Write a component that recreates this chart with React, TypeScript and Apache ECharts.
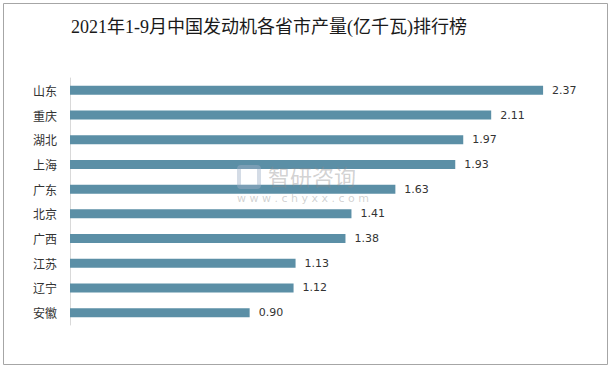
import React, { useEffect, useRef } from "react";
import * as echarts from "echarts";

const titleText = "2021年1-9月中国发动机各省市产量(亿千瓦)排行榜";
const provinces = ["山东", "重庆", "湖北", "上海", "广东", "北京", "广西", "江苏", "辽宁", "安徽"];
const output = [2.37, 2.11, 1.97, 1.93, 1.63, 1.41, 1.38, 1.13, 1.12, 0.9];

export default function App() {
  const ref = useRef<HTMLDivElement>(null);
  useEffect(() => {
    if (!ref.current) return;
    const chart = echarts.init(ref.current, undefined, { renderer: "svg" });
    chart.setOption({
      animation: false,
      backgroundColor: "#ffffff",
      title: {
        text: titleText,
        left: 66,
        top: 13,
        textStyle: {
          fontFamily: "'Liberation Serif', 'Noto Sans CJK SC', serif",
          fontSize: 18,
          fontWeight: "normal",
          color: "#1a1a1a",
        },
      },
      graphic: [
        {
          type: "rect",
          shape: { x: 3.5, y: 3.5, width: 604, height: 361 },
          style: { fill: "none", stroke: "#a6a6a6", lineWidth: 1 },
          silent: true,
          z: -1,
        },
        {
          type: "rect",
          shape: { x: 239, y: 167, width: 20, height: 20, r: 2 },
          style: { fill: "none", stroke: "rgba(160,178,200,0.45)", lineWidth: 4 },
          silent: true,
          z: 10,
        },
        {
          type: "text",
          x: 268,
          y: 164,
          style: {
            text: "智研咨询",
            fontSize: 22,
            fontFamily: "'Noto Sans CJK SC', sans-serif",
            fill: "rgba(140,140,140,0.4)",
          },
          silent: true,
          z: 10,
        },
        {
          type: "text",
          x: 237,
          y: 193,
          style: {
            text: "w w w . c h y x x . c o m",
            fontSize: 11,
            fontFamily: "'DejaVu Sans', sans-serif",
            fill: "rgba(140,140,140,0.4)",
          },
          silent: true,
          z: 10,
        },
      ],
      grid: { left: 70, top: 78, bottom: 44, right: 23, containLabel: false },
      xAxis: {
        type: "value",
        min: 0,
        max: 2.6,
        show: false,
        splitLine: { show: false },
      },
      yAxis: {
        type: "category",
        data: provinces,
        inverse: true,
        axisLine: { show: true, lineStyle: { color: "#d9d9d9", width: 1 } },
        axisTick: { show: false },
        axisLabel: {
          fontSize: 12,
          color: "#333333",
          margin: 13,
          fontFamily: "'Noto Sans CJK SC', sans-serif",
        },
      },
      series: [
        {
          type: "bar",
          data: output,
          barWidth: 9,
          itemStyle: { color: "#5b8fa6" },
          label: {
            show: true,
            position: "right",
            distance: 9,
            fontSize: 11,
            color: "#333333",
            fontFamily: "'DejaVu Sans', sans-serif",
            formatter: (p: any) => Number(p.value).toFixed(2),
          },
        },
      ],
    });
    return () => chart.dispose();
  }, []);
  return (
    <div
      ref={ref}
      style={{ position: "absolute", left: 0, top: 0, width: 612, height: 369 }}
    />
  );
}
